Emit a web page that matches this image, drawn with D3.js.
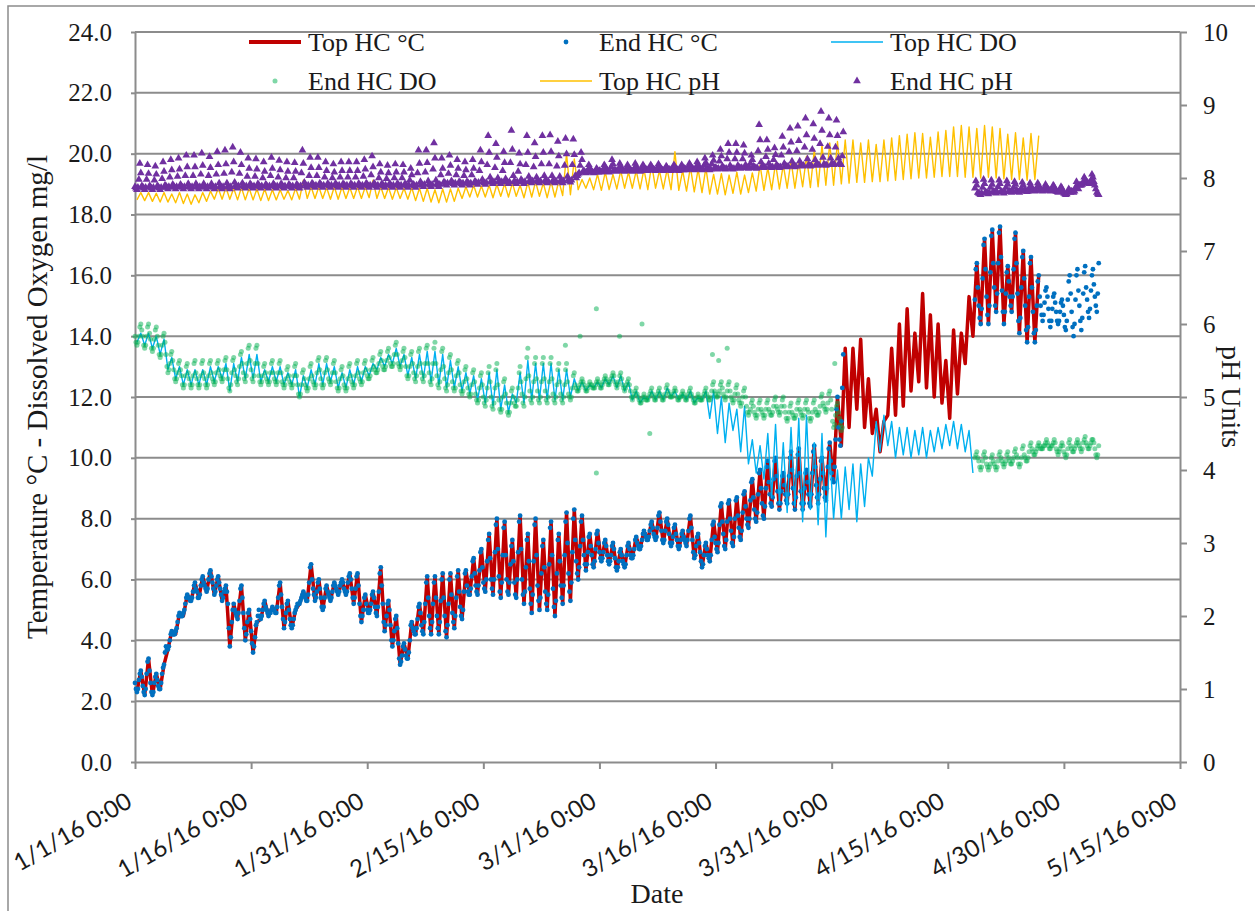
<!DOCTYPE html>
<html>
<head>
<meta charset="utf-8">
<script src="https://cdn.jsdelivr.net/npm/d3@7"></script>
<style>
  html, body { margin: 0; padding: 0; background: #fff; }
  svg { display: block; }
</style>
</head>
<body>
<svg id="chart" width="1255" height="911"></svg>
<script>
// ---------- axis ticks ----------
const xTickDates = ["2016-01-01","2016-01-16","2016-01-31","2016-02-15","2016-03-01",
                    "2016-03-16","2016-03-31","2016-04-15","2016-04-30","2016-05-15"];
const leftTicks = [0,2,4,6,8,10,12,14,16,18,20,22,24];
const rightTicks = [0,1,2,3,4,5,6,7,8,9,10];
const seriesNames = ["Top HC °C","End HC °C","Top HC DO","End HC DO","Top HC pH","End HC pH"];

// ---------- Top HC logger: one reading every 12 h from 1/1 06:00 (morning low, evening high) ----------
const topStartDay = 0.25, topStepDays = 0.5;

const topTemp = [
  2.3,3.0, 2.2,3.4, 2.2,2.9, 2.4,3.2, 3.7,4.3, 4.2,4.9, 4.8,5.5, 5.3,5.9, 5.4,6.1, 5.6,6.3,
  5.5,6.1, 5.3,5.8, 3.8,5.2, 4.7,5.8, 4.0,5.0, 3.6,4.6, 4.7,5.3, 4.8,5.1, 4.9,5.9, 4.4,5.3,
  4.4,5.0, 5.2,5.6, 5.3,6.5, 5.3,6.0, 5.0,5.8, 5.3,5.9, 5.5,6.0, 5.5,6.2, 5.2,6.2, 4.6,5.5,
  4.9,5.6, 4.8,6.4, 4.3,5.3, 3.8,4.8, 3.2,3.9, 3.4,4.6, 4.2,5.2, 4.2,6.1, 4.2,6.1, 4.2,6.2,
  4.1,6.2, 4.4,6.3, 4.7,6.3, 5.5,6.7, 5.5,7.0, 5.6,7.5, 5.5,8.0, 5.4,7.9, 5.5,7.3, 5.4,8.1,
  5.2,7.5, 4.9,8.0, 5.0,7.3, 5.0,7.9, 4.8,7.5, 5.2,8.2, 5.3,8.3, 6.0,8.1, 6.3,7.5, 6.4,7.6,
  6.6,7.3, 6.5,7.2, 6.3,7.0, 6.4,7.2, 6.7,7.4, 7.0,7.6, 7.3,7.9, 7.3,8.2, 7.2,8.0, 7.1,7.8,
  7.0,7.6, 7.1,8.1, 6.7,7.5, 6.4,7.2, 6.6,7.9, 6.9,8.5, 7.0,8.6, 7.1,8.7, 7.3,8.9, 7.7,9.3,
  7.9,9.6, 8.0,9.9, 8.4,10.0, 8.3,9.5, 8.5,10.2, 8.3,10.3, 8.3,9.6, 8.4,10.4, 8.5,10.0, 8.6,10.5,
  9.2,12.0, 10.4,13.6, 11.0,13.6, 11.6,13.9, 11.0,12.6, 10.8,11.6, 10.2,11.2, 11.4,13.6, 11.4,14.4, 11.7,14.9,
  12.2,14.1, 12.5,15.4, 12.3,14.7, 12.0,14.4, 11.8,13.2, 11.3,14.2, 12.1,14.1, 13.1,15.3, 14.0,16.4, 14.4,17.2,
  14.4,17.5, 14.8,17.6, 14.4,16.3, 14.8,17.4, 14.1,16.8, 13.8,16.6, 13.8,16.0
];

const topDO = [
  13.8,14.1, 13.7,14.1, 13.6,14.0, 13.4,13.9, 12.9,13.3, 12.6,13.0, 12.4,12.9, 12.4,12.9, 12.4,12.9, 12.4,13.0,
  12.5,13.0, 12.6,13.1, 12.2,13.1, 12.5,13.3, 12.6,13.4, 12.6,13.4, 12.5,12.9, 12.5,13.0, 12.5,13.0, 12.4,12.8,
  12.4,12.9, 12.0,12.7, 12.3,12.9, 12.4,13.1, 12.4,13.1, 12.5,13.0, 12.3,12.8, 12.3,12.9, 12.4,13.0, 12.5,13.0,
  12.7,13.1, 12.9,13.3, 13.0,13.4, 13.1,13.6, 13.0,13.4, 12.7,13.3, 12.6,13.4, 12.6,13.5, 12.5,13.5, 12.4,13.4,
  12.3,13.2, 12.3,13.0, 12.2,12.8, 12.1,12.7, 11.9,12.6, 11.8,12.8, 11.7,12.9, 11.6,12.4, 11.5,12.1, 11.8,12.8,
  11.8,13.2, 11.9,13.1, 11.9,13.1, 11.9,13.1, 11.9,12.9, 11.9,12.9, 12.0,12.6, 12.2,12.5, 12.2,12.4, 12.3,12.5,
  12.3,12.6, 12.4,12.7, 12.3,12.7, 12.2,12.5, 11.9,12.2, 11.8,12.0, 11.9,12.2, 11.9,12.2, 11.9,12.3, 12.0,12.2,
  11.9,12.1, 11.9,12.2, 11.8,12.0, 11.9,12.2, 11.3,12.2, 10.8,12.0, 10.5,11.8, 10.9,11.6, 10.2,11.7, 9.8,10.6,
  9.5,10.4, 9.3,10.8, 8.7,11.1, 8.5,10.5, 8.2,11.0, 8.4,11.3, 7.9,11.4, 8.3,10.5, 7.8,10.8, 7.4,10.2,
  8.0,9.6, 8.0,9.7, 8.3,9.8, 7.9,9.8, 8.4,10.0, 9.4,11.2, 10.2,11.4, 10.4,11.2, 10.0,11.0, 10.1,11.0,
  10.0,10.9, 10.1,11.0, 10.0,10.9, 10.2,11.0, 10.3,11.1, 10.4,11.2, 10.3,11.1, 10.2,10.9, 9.5
];

const topPH = [
  7.70,7.80, 7.69,7.80, 7.68,7.79, 7.67,7.80, 7.67,7.78, 7.66,7.80, 7.65,7.78, 7.64,7.77, 7.66,7.80, 7.68,7.82,
  7.71,7.86, 7.71,7.87, 7.71,7.86, 7.70,7.87, 7.70,7.86, 7.70,7.85, 7.69,7.85, 7.69,7.84, 7.70,7.84, 7.71,7.83,
  7.70,7.86, 7.71,7.97, 7.72,7.88, 7.72,7.88, 7.72,7.87, 7.71,7.88, 7.71,7.88, 7.72,7.87, 7.72,7.88, 7.72,7.88,
  7.73,7.97, 7.72,7.88, 7.72,7.87, 7.71,7.87, 7.72,7.86, 7.71,7.87, 7.69,7.86, 7.68,7.86, 7.67,7.84, 7.66,7.85,
  7.67,7.85, 7.68,7.86, 7.72,7.88, 7.74,7.90, 7.74,7.89, 7.74,7.90, 7.73,7.91, 7.75,7.92, 7.74,7.93, 7.75,7.90,
  7.73,7.94, 7.74,7.95, 7.75,7.93, 7.73,7.95, 7.74,7.96, 7.76,8.33, 7.77,8.26, 7.84,7.98, 7.86,8.00, 7.84,8.05,
  7.83,8.08, 7.84,8.05, 7.85,8.10, 7.86,8.08, 7.86,8.10, 7.85,8.12, 7.84,8.18, 7.86,8.10, 7.85,8.12, 7.84,8.36,
  7.83,8.10, 7.82,8.15, 7.81,8.12, 7.80,8.14, 7.78,8.05, 7.78,8.06, 7.77,8.04, 7.79,8.08, 7.78,8.04, 7.80,8.07,
  7.82,8.18, 7.83,8.14, 7.84,8.20, 7.85,8.18, 7.86,8.24, 7.86,8.22, 7.88,8.30, 7.87,8.38, 7.88,8.45, 7.90,8.48,
  7.90,8.50, 7.92,8.52, 7.93,8.52, 7.94,8.48, 7.94,8.52, 7.95,8.46, 7.95,8.52, 7.96,8.55, 7.97,8.58, 7.98,8.60,
  7.99,8.62, 8.00,8.61, 8.00,8.56, 8.01,8.63, 8.02,8.65, 8.02,8.70, 8.02,8.72, 8.01,8.70, 8.01,8.68, 8.00,8.72,
  8.01,8.70, 8.00,8.68, 7.99,8.60, 7.98,8.62, 7.98,8.55, 7.97,8.61, 7.98,8.58
];

// ---------- End HC logger: one reading every 3 h, two deployments ----------
const endStepDays = 0.125;
const endStartDay1 = 0;      // 1/1 00:00
const endStartDay2 = 108.5;  // 4/18 12:00

const endTemp1 = [
  2.6,2.4,2.3,2.4,2.7,2.9,3.0,2.8, 2.5,2.3,2.2,2.4,2.9,3.3,3.4,3.0, 2.6,2.3,2.2,2.3,2.6,2.8,2.9,2.7, 2.5,2.4,2.4,2.6,2.9,3.1,3.2,3.6, 3.8,3.7,3.7,3.8,4.0,4.2,4.3,4.2,
  4.2,4.2,4.3,4.4,4.6,4.8,4.9,4.8, 4.8,4.8,4.9,5.0,5.2,5.4,5.5,5.4, 5.4,5.3,5.3,5.4,5.6,5.8,5.9,5.7, 5.6,5.4,5.4,5.5,5.8,6.0,6.1,5.9, 5.8,5.7,5.6,5.7,6.0,6.2,6.3,6.1,
  5.9,5.7,5.5,5.6,5.8,6.0,6.1,5.9, 5.7,5.5,5.3,5.4,5.6,5.7,5.8,5.6, 5.2,4.4,3.8,4.1,4.6,5.0,5.2,5.0, 4.9,4.8,4.7,4.9,5.3,5.7,5.8,5.4, 4.9,4.4,4.0,4.2,4.6,4.9,5.0,4.7,
  4.3,3.9,3.6,3.8,4.1,4.5,4.6,4.8, 5.0,4.8,4.7,4.8,5.0,5.2,5.3,5.1, 5.0,4.9,4.8,4.9,4.9,5.0,5.1,5.0, 5.0,4.9,4.9,5.1,5.4,5.8,5.9,5.5, 5.1,4.7,4.4,4.6,4.9,5.2,5.3,5.0,
  4.7,4.5,4.4,4.5,4.7,4.9,5.0,5.1, 5.2,5.2,5.2,5.3,5.4,5.5,5.6,5.5, 5.4,5.3,5.3,5.5,5.9,6.4,6.5,6.0, 5.7,5.5,5.3,5.4,5.6,5.9,6.0,5.7, 5.4,5.1,5.0,5.1,5.4,5.7,5.8,5.6,
  5.5,5.4,5.3,5.4,5.6,5.8,5.9,5.8, 5.7,5.6,5.5,5.6,5.8,5.9,6.0,5.9, 5.7,5.6,5.5,5.6,5.9,6.1,6.2,6.0, 5.7,5.4,5.2,5.4,5.7,6.1,6.2,5.8, 5.2,4.8,4.6,4.8,5.0,5.4,5.5,5.2,
  5.0,4.9,4.9,5.0,5.2,5.5,5.6,5.4, 5.1,4.9,4.8,5.1,5.6,6.2,6.4,5.8, 5.2,4.6,4.3,4.5,4.8,5.2,5.3,5.0, 4.5,4.0,3.8,4.0,4.3,4.7,4.8,4.4, 3.9,3.4,3.2,3.3,3.5,3.8,3.9,3.7,
  3.5,3.4,3.4,3.6,4.0,4.5,4.6,4.4, 4.3,4.2,4.2,4.4,4.7,5.1,5.2,4.9, 4.5,4.3,4.2,4.6,5.2,5.9,6.1,5.4, 4.8,4.4,4.2,4.6,5.2,5.9,6.1,5.4, 4.8,4.4,4.2,4.6,5.3,6.0,6.2,5.4,
  4.8,4.3,4.1,4.5,5.2,6.0,6.2,5.5, 4.9,4.6,4.4,4.8,5.4,6.1,6.3,5.6, 5.1,4.8,4.7,5.0,5.6,6.2,6.3,5.8, 5.6,5.5,5.5,5.7,6.1,6.6,6.7,6.2, 5.8,5.6,5.5,5.8,6.3,6.9,7.0,6.4,
  5.9,5.7,5.6,6.0,6.6,7.3,7.5,6.7, 6.0,5.7,5.5,6.0,6.9,7.8,8.0,7.0, 6.1,5.6,5.4,5.9,6.8,7.7,7.9,6.8, 6.0,5.6,5.5,5.9,6.5,7.1,7.3,6.6, 5.9,5.5,5.4,6.0,6.9,7.9,8.1,7.0,
  6.0,5.5,5.2,5.6,6.4,7.3,7.5,6.6, 5.7,5.2,4.9,5.5,6.6,7.8,8.0,6.8, 5.8,5.3,5.0,5.4,6.2,7.1,7.3,6.4, 5.6,5.2,5.0,5.5,6.5,7.7,7.9,6.8, 5.7,5.1,4.8,5.3,6.2,7.3,7.5,6.6,
  5.8,5.4,5.2,5.8,6.8,7.9,8.2,7.2, 6.2,5.6,5.3,5.9,6.9,8.0,8.3,7.3, 6.6,6.2,6.0,6.4,7.1,7.9,8.1,7.3, 6.8,6.5,6.3,6.5,6.9,7.4,7.5,7.1, 6.8,6.5,6.4,6.6,7.0,7.5,7.6,7.2,
  6.9,6.7,6.6,6.7,6.9,7.2,7.3,7.1, 6.8,6.6,6.5,6.6,6.8,7.1,7.2,7.0, 6.7,6.4,6.3,6.4,6.6,6.9,7.0,6.8, 6.6,6.5,6.4,6.5,6.8,7.1,7.2,7.0, 6.8,6.7,6.7,6.8,7.0,7.3,7.4,7.2,
  7.1,7.0,7.0,7.1,7.3,7.5,7.6,7.5, 7.4,7.3,7.3,7.4,7.6,7.8,7.9,7.7, 7.5,7.4,7.3,7.4,7.7,8.1,8.2,7.9, 7.6,7.3,7.2,7.3,7.6,7.9,8.0,7.8, 7.5,7.2,7.1,7.2,7.4,7.7,7.8,7.5,
  7.3,7.1,7.0,7.1,7.3,7.5,7.6,7.4, 7.3,7.2,7.1,7.3,7.6,8.0,8.1,7.7, 7.3,6.9,6.7,6.8,7.1,7.4,7.5,7.2, 6.9,6.6,6.4,6.5,6.8,7.1,7.2,7.0, 6.8,6.7,6.6,6.8,7.3,7.8,7.9,7.4,
  7.2,7.0,6.9,7.2,7.8,8.4,8.5,7.9, 7.5,7.1,7.0,7.3,7.9,8.5,8.6,8.0, 7.6,7.2,7.1,7.4,8.0,8.6,8.7,8.1, 7.7,7.4,7.3,7.6,8.2,8.8,8.9,8.4, 8.0,7.8,7.7,8.0,8.6,9.2,9.3,8.7,
  8.3,8.0,7.9,8.2,8.8,9.5,9.6,9.0, 8.5,8.1,8.0,8.4,9.0,9.7,9.9,9.2, 8.8,8.5,8.4,8.7,9.3,9.9,10.0,9.4, 8.9,8.5,8.3,8.5,8.9,9.4,9.5,9.1, 8.8,8.6,8.5,8.8,9.4,10.0,10.2,9.6,
  9.0,8.5,8.3,8.7,9.4,10.1,10.3,9.5, 8.9,8.5,8.3,8.5,9.0,9.5,9.6,9.2, 8.8,8.5,8.4,8.8,9.5,10.2,10.4,9.7, 9.1,8.7,8.5,8.8,9.3,9.9,10.0,9.5, 9.0,8.7,8.6,9.0,9.7,10.3,10.5,9.9,
  9.5,9.3,9.2,9.7,10.6,11.6,12.0,11.0, 10.6,10.4,11.2,12.3,13.4
];
const endTemp2 = [
  15.2,16.2,16.4,15.6,
  15.0,14.6,14.4,14.9,15.9,17.0,17.2,16.2, 15.3,14.7,14.4,15.0,16.1,17.3,17.5,16.4, 15.6,15.0,14.8,15.4,16.4,17.4,17.6,16.6, 15.5,14.8,14.4,14.8,15.4,16.1,16.3,15.8, 15.3,15.0,14.8,15.3,16.2,17.2,17.4,16.4,
  15.4,14.5,14.1,14.6,15.6,16.6,16.8,15.9, 15.0,14.2,13.8,14.3,15.3,16.4,16.6,15.6, 14.8,14.1,13.8,14.2,15.0,15.8,16.0,15.3, 15.0,14.7,14.5,14.7,15.1,15.5,15.6,15.3, 14.9,14.5,14.3,14.5,14.9,15.3,15.4,15.1,
  14.8,14.5,14.4,14.5,14.8,15.1,15.2,15.0, 14.7,14.3,14.2,14.5,15.2,15.8,16.0,15.4, 14.8,14.3,14.0,14.4,15.2,16.0,16.2,15.5, 15.0,14.5,14.2,14.6,15.4,16.1,16.3,15.6, 15.2,14.8,14.6,14.9,15.5,16.0,16.2,15.7,
  15.3,15.0,14.8,15.4,16.4
];

const endDO1 = [
  14.0,13.8,13.7,13.8,14.0,14.3,14.4,14.2, 14.0,13.7,13.6,13.7,14.0,14.3,14.4,14.1, 13.9,13.6,13.5,13.6,13.9,14.2,14.3,14.0, 13.7,13.4,13.3,13.4,13.7,14.0,14.1,13.8, 13.4,13.0,12.8,12.9,13.1,13.4,13.5,13.2,
  12.9,12.6,12.5,12.6,12.8,13.1,13.2,12.9, 12.7,12.4,12.3,12.4,12.7,13.0,13.1,12.8, 12.6,12.4,12.3,12.4,12.7,13.1,13.2,12.8, 12.6,12.4,12.3,12.4,12.7,13.1,13.2,12.8, 12.6,12.4,12.3,12.4,12.7,13.1,13.2,12.8,
  12.6,12.5,12.4,12.5,12.8,13.1,13.2,12.9, 12.7,12.6,12.5,12.6,12.9,13.2,13.3,12.9, 12.6,12.3,12.2,12.4,12.8,13.2,13.3,12.9, 12.7,12.5,12.4,12.6,13.0,13.4,13.5,13.1, 12.8,12.6,12.5,12.7,13.1,13.6,13.7,13.2,
  12.9,12.6,12.5,12.7,13.1,13.6,13.7,13.1, 12.7,12.5,12.4,12.5,12.7,13.0,13.1,12.8, 12.6,12.5,12.4,12.5,12.8,13.1,13.2,12.8, 12.6,12.5,12.4,12.5,12.8,13.1,13.2,12.8, 12.5,12.4,12.3,12.4,12.6,12.9,13.0,12.7,
  12.5,12.4,12.3,12.4,12.7,13.0,13.1,12.7, 12.4,12.1,12.0,12.1,12.4,12.8,12.9,12.6, 12.4,12.3,12.2,12.3,12.6,13.0,13.1,12.7, 12.5,12.4,12.3,12.4,12.8,13.2,13.3,12.9, 12.6,12.4,12.3,12.4,12.8,13.2,13.3,12.9,
  12.6,12.5,12.4,12.5,12.8,13.1,13.2,12.8, 12.5,12.3,12.2,12.3,12.6,12.9,13.0,12.7, 12.4,12.3,12.2,12.3,12.6,13.0,13.1,12.7, 12.5,12.4,12.3,12.4,12.7,13.1,13.2,12.8, 12.6,12.5,12.4,12.5,12.8,13.1,13.2,12.9,
  12.7,12.6,12.6,12.7,12.9,13.2,13.3,13.0, 12.9,12.8,12.8,12.9,13.1,13.4,13.5,13.2, 13.0,12.9,12.9,13.0,13.2,13.5,13.6,13.3, 13.1,13.0,13.0,13.1,13.4,13.7,13.8,13.4, 13.1,13.0,12.9,13.0,13.2,13.5,13.6,13.3,
  13.0,12.7,12.6,12.7,13.0,13.4,13.5,13.1, 12.8,12.6,12.5,12.7,13.0,13.5,13.6,13.1, 12.8,12.6,12.5,12.7,13.1,13.6,13.7,13.1, 12.8,12.5,12.4,12.6,13.1,13.6,13.8,13.1, 12.7,12.4,12.3,12.5,12.9,13.5,13.6,13.0,
  12.6,12.3,12.2,12.4,12.8,13.3,13.4,12.9, 12.5,12.3,12.2,12.3,12.7,13.1,13.2,12.8, 12.4,12.2,12.1,12.2,12.5,12.9,13.0,12.6, 12.3,12.1,12.0,12.1,12.4,12.8,12.9,12.5, 12.1,11.9,11.8,11.9,12.3,12.7,12.8,12.4,
  12.0,11.8,11.7,11.9,12.3,12.8,13.0,12.5, 12.0,11.7,11.6,11.8,12.3,12.9,13.1,12.4, 11.9,11.6,11.5,11.6,12.0,12.5,12.6,12.1, 11.8,11.5,11.4,11.5,11.8,12.2,12.3,12.0, 11.8,11.7,11.7,11.9,12.3,12.8,13.0,12.5,
  12.1,11.8,11.7,12.0,12.6,13.3,13.6,12.7, 12.2,11.9,11.8,12.0,12.5,13.1,13.3,12.6, 12.2,11.9,11.8,12.0,12.5,13.1,13.3,12.6, 12.2,11.9,11.8,12.0,12.5,13.1,13.3,12.6, 12.1,11.9,11.8,12.0,12.4,12.9,13.1,12.5,
  12.1,11.9,11.8,12.0,12.4,12.9,13.1,12.5, 12.1,12.0,11.9,12.0,12.3,12.7,12.8,12.4, 12.3,12.2,12.2,12.3,12.4,12.5,12.6,12.5, 12.4,12.3,12.2,12.2,12.3,12.4,12.5,12.4, 12.4,12.3,12.3,12.3,12.4,12.5,12.6,12.5,
  12.4,12.3,12.3,12.4,12.5,12.6,12.7,12.6, 12.5,12.4,12.4,12.5,12.6,12.7,12.8,12.7, 12.5,12.4,12.3,12.4,12.5,12.7,12.8,12.6, 12.4,12.3,12.2,12.3,12.4,12.5,12.6,12.4, 12.2,12.0,11.9,12.0,12.1,12.2,12.3,12.1,
  12.0,11.9,11.8,11.8,11.9,12.0,12.1,12.0, 11.9,11.9,11.9,12.0,12.1,12.2,12.3,12.1, 12.0,11.9,11.9,12.0,12.1,12.2,12.3,12.1, 12.0,11.9,11.9,12.0,12.1,12.3,12.4,12.2, 12.1,12.0,12.0,12.0,12.1,12.2,12.3,12.2,
  12.0,11.9,11.9,12.0,12.0,12.1,12.2,12.1, 12.0,11.9,11.9,12.0,12.1,12.2,12.3,12.1, 12.0,11.9,11.8,11.8,11.9,12.0,12.1,12.0, 11.9,11.9,11.9,12.0,12.1,12.2,12.3,12.1, 12.0,11.9,11.9,12.0,12.2,12.4,12.5,12.2,
  12.1,12.0,12.0,12.1,12.2,12.4,12.5,12.3, 12.1,12.0,11.9,12.0,12.2,12.4,12.5,12.2, 12.0,11.9,11.8,11.9,12.1,12.3,12.4,12.1, 11.9,11.8,11.7,11.8,12.0,12.2,12.3,12.0, 11.7,11.5,11.4,11.5,11.6,11.8,11.9,11.7,
  11.5,11.4,11.3,11.4,11.6,11.8,11.9,11.6, 11.5,11.4,11.3,11.4,11.6,11.8,11.9,11.6, 11.5,11.4,11.4,11.5,11.7,11.9,12.0,11.7, 11.6,11.5,11.4,11.5,11.7,11.9,12.0,11.7, 11.5,11.3,11.2,11.3,11.5,11.7,11.8,11.5,
  11.4,11.3,11.3,11.4,11.6,11.8,11.9,11.6, 11.5,11.4,11.3,11.4,11.6,11.8,11.9,11.6, 11.5,11.3,11.2,11.3,11.5,11.8,11.9,11.6, 11.5,11.4,11.4,11.5,11.7,12.0,12.1,11.8, 11.7,11.6,11.5,11.6,11.8,12.1,12.2,11.9,
  11.6,11.2,11.0,11.1,11.4,11.7,11.8,11.5, 11.3,11.1,10.9,11.0
];
const endDO2 = [
  10.0,10.1,10.2,10.0,
  9.9,9.7,9.6,9.7,9.9,10.1,10.2,10.0, 9.8,9.7,9.6,9.7,9.8,10.0,10.1,9.9, 9.8,9.7,9.6,9.7,9.9,10.1,10.2,10.0, 9.9,9.8,9.7,9.8,9.9,10.1,10.2,10.0, 9.9,9.8,9.8,9.9,10.0,10.2,10.3,10.1,
  10.0,9.8,9.7,9.8,10.0,10.3,10.4,10.1, 10.0,9.9,9.9,10.0,10.2,10.4,10.5,10.3, 10.2,10.1,10.1,10.2,10.3,10.4,10.5,10.4, 10.3,10.3,10.3,10.4,10.4,10.5,10.6,10.5, 10.4,10.3,10.3,10.4,10.4,10.5,10.6,10.5,
  10.3,10.2,10.1,10.2,10.3,10.4,10.5,10.4, 10.2,10.1,10.0,10.1,10.3,10.5,10.6,10.4, 10.3,10.2,10.2,10.3,10.4,10.5,10.6,10.5, 10.4,10.3,10.2,10.3,10.5,10.6,10.7,10.5, 10.4,10.3,10.3,10.4,10.5,10.6,10.6,10.5,
  10.3,10.1,10.0,10.1,10.4
];
// isolated End HC DO readings: [day after 1/1, mg/l]
const endDOSpikes = [[55.6,13.7],[57.5,14.0],[59.6,14.9],[59.6,9.5],[62.6,14.0],[65.5,14.4],
                     [66.5,10.8],[74.6,13.4],[75.4,13.2],[76.5,13.6],[90.4,13.1]];

const endPH1 = [
  7.88,7.86,7.84,7.87,7.98,8.20,8.07,7.89, 7.88,7.86,7.84,7.87,7.98,8.18,8.06,7.89, 7.88,7.86,7.84,7.87,7.97,8.16,8.05,7.89, 7.88,7.86,7.84,7.87,7.99,8.22,8.09,7.90, 7.89,7.87,7.85,7.88,8.01,8.25,8.11,7.91,
  7.89,7.87,7.85,7.88,8.02,8.27,8.12,7.91, 7.89,7.87,7.85,7.88,8.03,8.31,8.15,7.92, 7.89,7.87,7.85,7.88,8.03,8.31,8.15,7.92, 7.89,7.87,7.85,7.88,8.05,8.34,8.17,7.92, 7.89,7.87,7.85,7.88,8.03,8.29,8.14,7.92,
  7.89,7.87,7.85,7.88,8.05,8.36,8.18,7.93, 7.89,7.87,7.85,7.88,8.06,8.38,8.19,7.93, 7.89,7.87,7.85,7.88,8.08,8.42,8.22,7.94, 7.90,7.88,7.86,7.89,8.06,8.35,8.18,7.93, 7.90,7.88,7.86,7.89,8.02,8.27,8.13,7.92,
  7.90,7.88,7.86,7.89,8.02,8.26,8.12,7.92, 7.90,7.88,7.86,7.89,8.00,8.22,8.09,7.91, 7.90,7.88,7.86,7.89,8.03,8.28,8.13,7.92, 7.90,7.88,7.86,7.89,8.01,8.24,8.11,7.92, 7.90,7.88,7.86,7.89,8.00,8.22,8.09,7.91,
  7.90,7.88,7.86,7.89,8.00,8.21,8.09,7.91, 7.90,7.88,7.86,7.89,8.07,8.38,8.20,7.94, 7.91,7.89,7.87,7.90,8.03,8.28,8.14,7.93, 7.91,7.89,7.87,7.90,8.03,8.28,8.14,7.93, 7.91,7.89,7.87,7.90,8.01,8.22,8.10,7.92,
  7.91,7.89,7.87,7.90,8.00,8.19,8.08,7.92, 7.91,7.89,7.87,7.90,8.01,8.22,8.10,7.92, 7.91,7.89,7.87,7.90,8.01,8.22,8.10,7.92, 7.91,7.89,7.87,7.90,8.01,8.22,8.10,7.92, 7.91,7.89,7.87,7.90,8.02,8.25,8.12,7.93,
  7.91,7.89,7.87,7.90,8.04,8.30,8.15,7.93, 7.91,7.89,7.87,7.90,8.00,8.19,8.08,7.92, 7.91,7.89,7.87,7.90,7.99,8.17,8.07,7.92, 7.91,7.89,7.87,7.90,8.00,8.19,8.08,7.92, 7.91,7.89,7.87,7.90,8.00,8.18,8.08,7.92,
  7.91,7.89,7.87,7.90,7.97,8.13,8.04,7.91, 7.91,7.89,7.87,7.90,8.07,8.38,8.20,7.95, 7.92,7.90,7.88,7.91,8.08,8.38,8.21,7.96, 7.92,7.90,7.88,7.91,8.12,8.48,8.27,7.97, 7.92,7.90,7.88,7.91,8.04,8.27,8.13,7.94,
  7.94,7.92,7.90,7.93,8.06,8.31,8.17,7.96, 7.94,7.92,7.90,7.93,8.04,8.25,8.13,7.95, 7.94,7.92,7.90,7.93,8.03,8.22,8.11,7.95, 7.94,7.92,7.90,7.93,8.04,8.25,8.13,7.95, 7.95,7.93,7.91,7.94,8.10,8.38,8.22,7.98,
  7.95,7.93,7.91,7.94,8.18,8.58,8.35,8.01, 7.96,7.94,7.92,7.95,8.14,8.47,8.28,8.00, 7.96,7.94,7.92,7.95,8.10,8.36,8.21,7.99, 7.96,7.94,7.92,7.95,8.21,8.65,8.39,8.03, 7.96,7.94,7.92,7.95,8.09,8.34,8.19,7.98,
  7.96,7.94,7.92,7.95,8.18,8.58,8.35,8.02, 7.97,7.95,7.93,7.96,8.15,8.48,8.29,8.01, 7.97,7.95,7.93,7.96,8.19,8.58,8.35,8.03, 7.97,7.95,7.93,7.96,8.19,8.59,8.36,8.03, 7.97,7.95,7.93,7.96,8.16,8.50,8.30,8.02,
  7.97,7.95,7.93,7.96,8.17,8.54,8.33,8.02, 7.98,7.96,7.94,7.97,8.18,8.53,8.32,8.03, 8.00,8.03,8.05,8.07,8.17,8.35,8.25,8.09, 8.10,8.08,8.07,8.08,8.11,8.18,8.14,8.09, 8.09,8.08,8.07,8.08,8.09,8.13,8.11,8.08,
  8.10,8.09,8.08,8.09,8.12,8.18,8.15,8.09, 8.10,8.09,8.08,8.09,8.15,8.25,8.19,8.11, 8.11,8.10,8.09,8.10,8.13,8.20,8.16,8.11, 8.11,8.10,8.09,8.10,8.13,8.18,8.15,8.10, 8.11,8.10,8.09,8.10,8.13,8.20,8.16,8.11,
  8.11,8.10,8.09,8.10,8.13,8.18,8.15,8.10, 8.12,8.11,8.10,8.11,8.13,8.18,8.15,8.11, 8.12,8.11,8.10,8.11,8.14,8.19,8.16,8.11, 8.12,8.11,8.10,8.11,8.12,8.16,8.14,8.11, 8.12,8.11,8.10,8.11,8.13,8.18,8.15,8.11,
  8.12,8.11,8.10,8.11,8.13,8.18,8.15,8.11, 8.13,8.12,8.11,8.12,8.15,8.20,8.17,8.12, 8.13,8.12,8.11,8.12,8.15,8.22,8.18,8.13, 8.13,8.12,8.11,8.12,8.17,8.27,8.21,8.13, 8.13,8.12,8.11,8.12,8.19,8.31,8.24,8.14,
  8.14,8.13,8.12,8.13,8.23,8.39,8.30,8.16, 8.14,8.13,8.12,8.13,8.26,8.47,8.35,8.17, 8.14,8.13,8.12,8.13,8.26,8.47,8.35,8.17, 8.15,8.14,8.13,8.14,8.26,8.45,8.34,8.18, 8.15,8.14,8.13,8.14,8.20,8.31,8.25,8.16,
  8.15,8.14,8.13,8.14,8.37,8.73,8.52,8.22, 8.16,8.15,8.14,8.15,8.29,8.52,8.39,8.20, 8.16,8.15,8.14,8.15,8.25,8.41,8.32,8.18, 8.16,8.15,8.14,8.15,8.31,8.57,8.42,8.20, 8.17,8.16,8.15,8.16,8.36,8.68,8.49,8.23,
  8.17,8.16,8.15,8.16,8.37,8.71,8.51,8.23, 8.18,8.17,8.16,8.17,8.42,8.82,8.59,8.26, 8.18,8.17,8.16,8.17,8.39,8.74,8.54,8.25, 8.19,8.18,8.17,8.18,8.47,8.91,8.65,8.28, 8.19,8.18,8.17,8.18,8.43,8.82,8.59,8.27,
  8.20,8.19,8.18,8.19,8.42,8.79,8.58,8.27, 8.21,8.19,8.18,8.30,8.63
];
const endPH2 = [
  7.86,7.96,7.90,7.80,
  7.79,7.78,7.77,7.79,7.87,7.98,7.92,7.81, 7.80,7.79,7.78,7.80,7.87,7.97,7.91,7.82, 7.81,7.80,7.79,7.81,7.88,7.97,7.92,7.82, 7.81,7.80,7.79,7.81,7.87,7.96,7.91,7.82, 7.82,7.81,7.80,7.82,7.87,7.95,7.91,7.83,
  7.82,7.81,7.80,7.82,7.86,7.94,7.90,7.83, 7.83,7.82,7.81,7.82,7.86,7.93,7.89,7.83, 7.84,7.83,7.82,7.83,7.87,7.93,7.90,7.84, 7.84,7.83,7.82,7.83,7.86,7.91,7.88,7.84, 7.84,7.83,7.82,7.83,7.86,7.90,7.88,7.83,
  7.82,7.81,7.80,7.81,7.84,7.88,7.86,7.81, 7.79,7.78,7.77,7.78,7.81,7.85,7.83,7.80, 7.82,7.81,7.80,7.82,7.87,7.95,7.91,7.85, 7.90,7.90,7.90,7.91,7.95,8.01,7.98,7.93, 7.94,7.93,7.92,7.93,7.97,8.05,8.01,7.95,
  7.90,7.85,7.80,7.78,7.77
];

// ---------- helpers ----------
const DAY_MS = 864e5;
const T0 = Date.UTC(2016, 0, 1);
const toDate = day => new Date(T0 + day * DAY_MS);
const readings = (vals, start, step) => vals.map((v, i) => ({ t: toDate(start + i * step), v }));

const serif = "'Liberation Serif','Times New Roman',Times,serif";
const sans = "Lato,'Liberation Sans',Arial,sans-serif";
const axisGrey = "#8c8c8c";
const textCol = "#1a1a1a";

const svg = d3.select("#chart");
const plot = { left: 135, right: 1180, top: 32, bottom: 762 };

const xDates = xTickDates.map(s => new Date(s + "T00:00:00Z"));
const x = d3.scaleUtc().domain(d3.extent(xDates)).range([plot.left, plot.right]);
const yL = d3.scaleLinear().domain([0, 24]).range([plot.bottom, plot.top]);
const yR = d3.scaleLinear().domain([0, 10]).range([plot.bottom, plot.top]);

// outer frame
svg.append("rect").attr("x", 8).attr("y", 6).attr("width", 1270).attr("height", 930)
  .attr("fill", "#fff").attr("stroke", axisGrey).attr("stroke-width", 1.5);

// horizontal gridlines
svg.append("g").selectAll("line").data(leftTicks.filter(d => d > 0)).join("line")
  .attr("x1", plot.left).attr("x2", plot.right)
  .attr("y1", d => yL(d)).attr("y2", d => yL(d))
  .attr("stroke", axisGrey).attr("stroke-width", 2);

function styleAxis(g) {
  g.select(".domain").attr("stroke", axisGrey).attr("stroke-width", 2);
  g.selectAll(".tick line").attr("stroke", axisGrey).attr("stroke-width", 2);
  g.selectAll(".tick text").attr("fill", textCol);
}

// left axis
const gL = svg.append("g").attr("transform", `translate(${plot.left},0)`)
  .call(d3.axisLeft(yL).tickValues(leftTicks).tickFormat(d3.format(".1f"))
    .tickSize(4).tickSizeOuter(0).tickPadding(19));
styleAxis(gL);
gL.selectAll(".tick text").attr("font-family", serif).attr("font-size", 25);

// right axis
const gR = svg.append("g").attr("transform", `translate(${plot.right},0)`)
  .call(d3.axisRight(yR).tickValues(rightTicks).tickFormat(d3.format("d"))
    .tickSize(7).tickSizeOuter(0).tickPadding(16));
styleAxis(gR);
gR.selectAll(".tick text").attr("font-family", serif).attr("font-size", 25);

// bottom axis
const gB = svg.append("g").attr("transform", `translate(0,${plot.bottom})`)
  .call(d3.axisBottom(x).tickValues(xDates).tickFormat(d3.utcFormat("%-m/%-d/%y %-H:%M"))
    .tickSize(7).tickSizeOuter(0));
styleAxis(gB);
gB.selectAll(".tick text")
  .attr("font-family", sans).attr("font-size", 24)
  .attr("y", 0).attr("dy", 0).attr("text-anchor", "end")
  .attr("transform", "translate(-2,44) rotate(-30)");

// ---------- series ----------
const lineL = d3.line().x(d => x(d.t)).y(d => yL(d.v));
const lineR = d3.line().x(d => x(d.t)).y(d => yR(d.v));

const topTempPts = readings(topTemp, topStartDay, topStepDays);
const topDOPts = readings(topDO, topStartDay, topStepDays);
const topPHPts = readings(topPH, topStartDay, topStepDays);
const endTempPts = readings(endTemp1, endStartDay1, endStepDays).concat(readings(endTemp2, endStartDay2, endStepDays));
const endDOPts = readings(endDO1, endStartDay1, endStepDays).concat(readings(endDO2, endStartDay2, endStepDays))
  .concat(endDOSpikes.map(([d, v]) => ({ t: toDate(d), v })));
const endPHPts = readings(endPH1, endStartDay1, endStepDays).concat(readings(endPH2, endStartDay2, endStepDays));

const colors = { topTemp: "#C00000", endTemp: "#0070C0", topDO: "#00B0F0", endDO: "#00B050", topPH: "#FFC000", endPH: "#7030A0" };

// Top HC °C
svg.append("path").datum(topTempPts).attr("d", lineL)
  .attr("fill", "none").attr("stroke", colors.topTemp).attr("stroke-width", 3.5)
  .attr("stroke-linejoin", "round");

// End HC °C
svg.append("g").selectAll("circle").data(endTempPts).join("circle")
  .attr("cx", d => x(d.t)).attr("cy", d => yL(d.v)).attr("r", 2.4)
  .attr("fill", colors.endTemp);

// Top HC DO
svg.append("path").datum(topDOPts).attr("d", lineL)
  .attr("fill", "none").attr("stroke", colors.topDO).attr("stroke-width", 1.4)
  .attr("stroke-linejoin", "round");

// End HC DO
svg.append("g").selectAll("circle").data(endDOPts).join("circle")
  .attr("cx", d => x(d.t)).attr("cy", d => yL(d.v)).attr("r", 2.5)
  .attr("fill", colors.endDO).attr("fill-opacity", 0.5);

// Top HC pH
svg.append("path").datum(topPHPts).attr("d", lineR)
  .attr("fill", "none").attr("stroke", colors.topPH).attr("stroke-width", 1.4)
  .attr("stroke-linejoin", "round");

// End HC pH
const tri = d3.symbol().type(d3.symbolTriangle).size(26);
svg.append("g").selectAll("path").data(endPHPts).join("path")
  .attr("d", tri)
  .attr("transform", d => `translate(${x(d.t)},${yR(d.v)})`)
  .attr("fill", colors.endPH);

// ---------- legend ----------
const legend = svg.append("g");
seriesNames.forEach((name, i) => {
  const col = i % 3, row = Math.floor(i / 3);
  const cx = 275 + col * 291, cy = 42 + row * 39;
  const g = legend.append("g");
  if (i === 0 || i === 2 || i === 4) {
    const stroke = [colors.topTemp, null, colors.topDO, null, colors.topPH][i];
    g.append("line").attr("x1", cx - 26).attr("x2", cx + 26).attr("y1", cy).attr("y2", cy)
      .attr("stroke", stroke).attr("stroke-width", i === 0 ? 4 : 1.4);
  } else if (i === 1) {
    g.append("circle").attr("cx", cx).attr("cy", cy).attr("r", 2.4).attr("fill", colors.endTemp);
  } else if (i === 3) {
    g.append("circle").attr("cx", cx).attr("cy", cy).attr("r", 2.5).attr("fill", colors.endDO).attr("fill-opacity", 0.5);
  } else {
    g.append("path").attr("d", tri).attr("transform", `translate(${cx},${cy})`).attr("fill", colors.endPH);
  }
  g.append("text").attr("x", 308 + col * 291).attr("y", cy + 9)
    .attr("font-family", serif).attr("font-size", 26).attr("fill", textCol).text(name);
});

// ---------- axis titles ----------
svg.append("text").attr("x", 657).attr("y", 903).attr("text-anchor", "middle")
  .attr("font-family", serif).attr("font-size", 28).attr("fill", textCol).text("Date");
svg.append("text").attr("transform", "translate(47,397) rotate(-90)").attr("text-anchor", "middle")
  .attr("font-family", serif).attr("font-size", 29).attr("fill", textCol)
  .text("Temperature °C - Dissolved Oxygen mg/l");
svg.append("text").attr("transform", "translate(1222,397) rotate(90)").attr("text-anchor", "middle")
  .attr("font-family", serif).attr("font-size", 28).attr("fill", textCol).text("pH Units");
</script>
</body>
</html>
